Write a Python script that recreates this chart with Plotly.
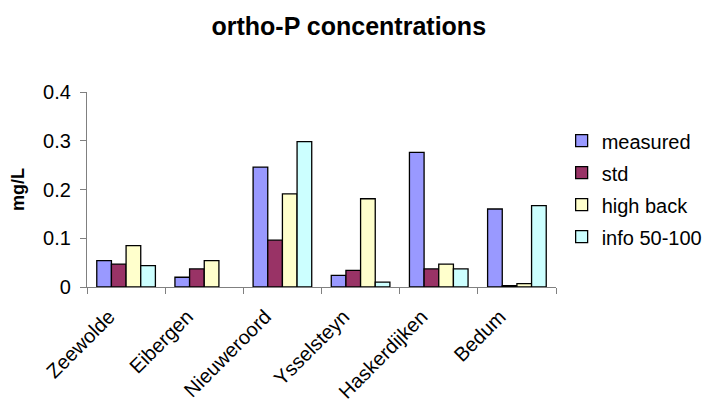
import plotly.graph_objects as go

# Sampling sites and ortho-P concentrations (mg/L) per scenario
sites = ["Zeewolde", "Eibergen", "Nieuweroord", "Ysselsteyn", "Haskerdijken", "Bedum"]
measured = [0.054, 0.020, 0.246, 0.024, 0.276, 0.160]
std = [0.047, 0.037, 0.096, 0.034, 0.037, 0.003]
high_back = [0.085, 0.054, 0.191, 0.181, 0.047, 0.007]
info_50_100 = [0.044, None, 0.298, 0.010, 0.037, 0.167]

series = [
    ("measured", measured, "#9999FF"),
    ("std", std, "#993366"),
    ("high back", high_back, "#FFFFCC"),
    ("info 50-100", info_50_100, "#CCFFFF"),
]

FONT = "Liberation Sans, Arial, sans-serif"

fig = go.Figure()
for name, vals, color in series:
    fig.add_trace(go.Bar(
        x=sites, y=vals, name=name, legendgroup=name,
        marker=dict(color=color, line=dict(color="#000000", width=1.3)),
    ))

fig.update_layout(
    width=706, height=405,
    margin=dict(l=87, r=150, t=92, b=117.5, autoexpand=False),
    paper_bgcolor="white", plot_bgcolor="white",
    barmode="group", bargap=0.25, bargroupgap=0,
    font=dict(family=FONT, size=20, color="#000000"),
    title=dict(text="<b>ortho-P concentrations</b>", x=0.494, xanchor="center",
               y=0.935, yanchor="middle", font=dict(size=25, family=FONT)),
    legend=dict(x=1.012, xanchor="left", y=0.504, yanchor="middle",
                font=dict(size=20, family=FONT), tracegroupgap=3,
                bgcolor="rgba(0,0,0,0)"),
    showlegend=True,
)

fig.update_xaxes(
    type="category", tickangle=-45, tickson="boundaries",
    ticks="outside", ticklen=6, tickcolor="#808080",
    ticklabelshift=-17, ticklabelstandoff=9,
    showline=True, linecolor="#808080", linewidth=1.3,
    showgrid=False, tickfont=dict(size=20, family=FONT),
)
fig.update_yaxes(
    range=[0, 0.4], dtick=0.1,
    ticks="outside", ticklen=6, tickcolor="#808080",
    ticklabelstandoff=5,
    showline=True, linecolor="#808080", linewidth=1.3,
    showgrid=False, zeroline=False, tickfont=dict(size=20, family=FONT),
    title=dict(text="<b>mg/L</b>", standoff=13, font=dict(size=18, family=FONT)),
)

fig.write_html("out.html")
